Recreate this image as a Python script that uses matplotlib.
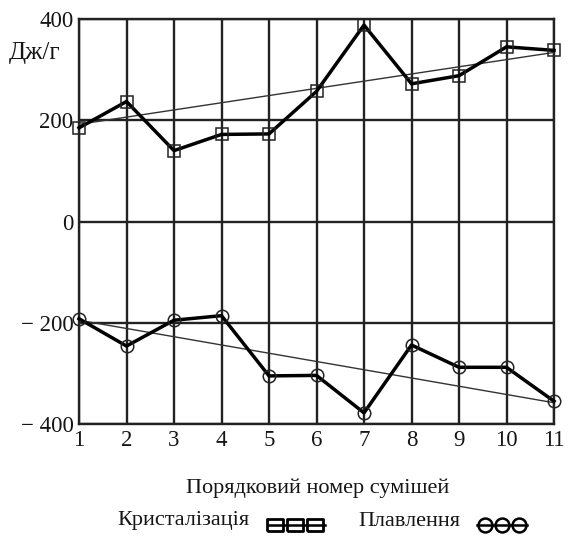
import matplotlib
matplotlib.use("Agg")
import matplotlib.pyplot as plt
from matplotlib.lines import Line2D

plt.rcParams['font.family'] = ['Liberation Serif', 'DejaVu Serif']

# Sample numbers
mix_no = [1, 2, 3, 4, 5, 6, 7, 8, 9, 10, 11]

# Specific heat of crystallization, J/g
crystallization = [185, 237, 140, 172, 173, 257, 388, 272, 288, 345, 338]
# Specific heat of melting, J/g
melting = [-192, -246, -195, -186, -305, -304, -378, -244, -288, -288, -355]

# Trend lines (values at the first and last sample)
trend_x = [1, 11]
crystallization_trend = [192, 334]
melting_trend = [-195, -358]

y_ticks = [-400, -200, 0, 200, 400]
y_tick_labels = ["\u2212 400", "\u2212 200", "0", "200", "400"]

W, H = 569, 538
fig = plt.figure(figsize=(W / 100, H / 100), dpi=100)
ax = fig.add_axes([79 / W, 1 - 424 / H, (554 - 79) / W, (424 - 19) / H])

ax.set_xlim(1, 11)
ax.set_ylim(-400, 400)
ax.set_xticks(mix_no)
ax.set_yticks(y_ticks)
ax.set_yticklabels(y_tick_labels)
ax.grid(True, color="#222222", linewidth=1.7)
ax.set_axisbelow(True)
for s in ax.spines.values():
    s.set_color("#222222")
    s.set_linewidth(1.7)
ax.tick_params(length=0, labelsize=16.5, pad=4, colors="#151515")

# Trend lines
ax.plot(trend_x, crystallization_trend, color="#333333", linewidth=1.0, zorder=3)
ax.plot(trend_x, melting_trend, color="#333333", linewidth=1.0, zorder=3)

# Data series
ax.plot(mix_no, crystallization, color="black", linewidth=2.5, marker="s",
        markersize=9, markerfacecolor="none", markeredgecolor="#222222",
        markeredgewidth=1.1, zorder=4, clip_on=False)
ax.plot(mix_no, melting, color="black", linewidth=2.5, marker="o",
        markersize=9, markerfacecolor="none", markeredgecolor="#222222",
        markeredgewidth=1.1, zorder=4, clip_on=False)

# Units label
fig.text(35 / W, 1 - 53 / H, "Дж/г", fontsize=18, ha="center", va="center",
         color="#151515")

# Axis caption
fig.text(318 / W, 1 - 488 / H, "Порядковий номер сумішей", fontsize=16,
         ha="center", va="center", color="#151515")

# Legend
text_y = 1 - 521 / H
sym_y = 1 - 525 / H
fig.text(117 / W, text_y, "Кристалізація", fontsize=16, ha="left",
         va="center", color="#151515")
fig.text(358 / W, text_y, "Плавлення", fontsize=16, ha="left",
         va="center", color="#151515")
rect_marker = [(-1, -0.72), (1, -0.72), (1, 0.72), (-1, 0.72), (-1, -0.72)]
fig.add_artist(Line2D([269 / W, 325 / W], [sym_y] * 2,
                      transform=fig.transFigure, color="black", linewidth=1.8))
fig.add_artist(Line2D([275 / W, 295 / W, 315 / W], [sym_y] * 3,
                      transform=fig.transFigure, linestyle="none",
                      marker=rect_marker, markersize=12, markerfacecolor="none",
                      markeredgecolor="black", markeredgewidth=2.0))
fig.add_artist(Line2D([477 / W, 527 / W], [sym_y] * 2,
                      transform=fig.transFigure, color="black", linewidth=1.8))
fig.add_artist(Line2D([485 / W, 502 / W, 519 / W], [sym_y] * 3,
                      transform=fig.transFigure, linestyle="none",
                      marker="o", markersize=10, markerfacecolor="none",
                      markeredgecolor="black", markeredgewidth=1.8))

fig.savefig("out.png", dpi=100, facecolor="white")
